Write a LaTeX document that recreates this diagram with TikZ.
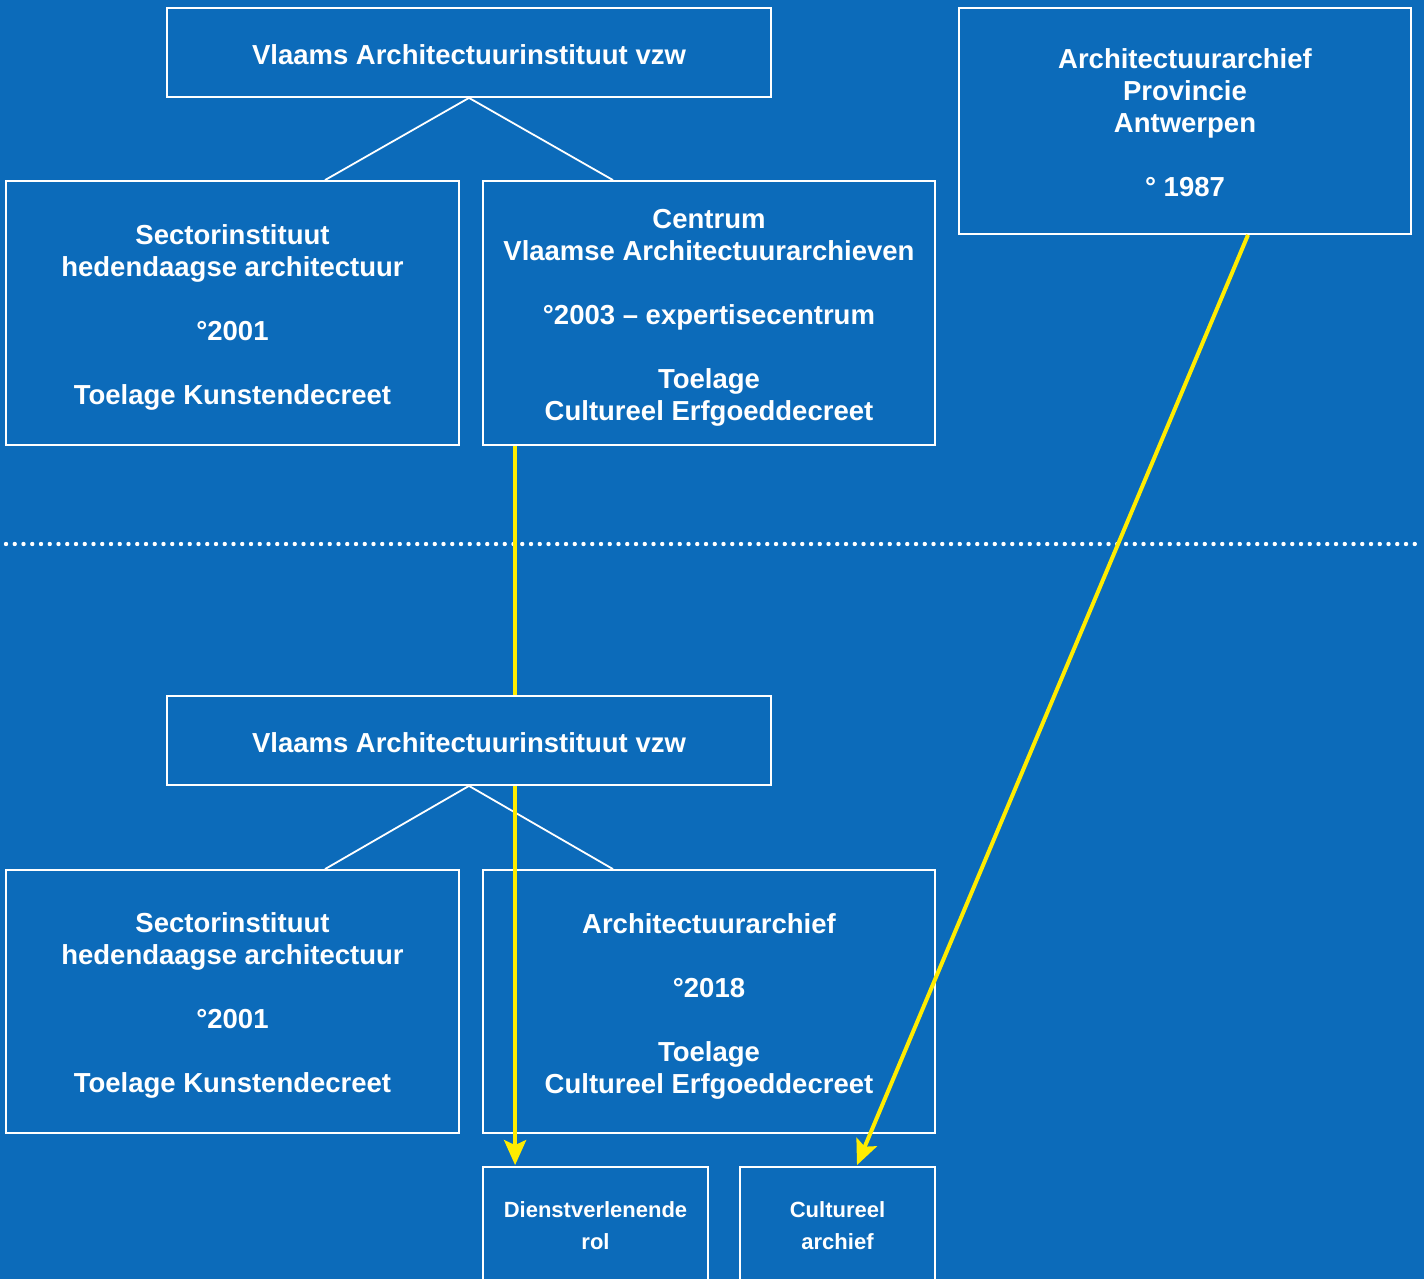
\documentclass[tikz,border=0pt]{standalone}
\usepackage{fontspec}
\setmainfont{Liberation Sans}
\usetikzlibrary{arrows.meta}
\definecolor{bgblue}{RGB}{12,107,186}
\definecolor{yel}{RGB}{255,236,0}
\pgfdeclarelayer{front}
\pgfsetlayers{main,front}
\tikzset{
  box/.style={draw=white, line width=1.8pt, fill=bgblue, inner sep=0pt},
  txt/.style={text=white, inner sep=0pt, align=center, font=\bfseries\fontsize{27.5}{32}\selectfont},
  smalltxt/.style={txt, font=\bfseries\fontsize{22}{32}\selectfont},
  wline/.style={draw=white, line width=1.8pt},
  yarrow/.style={draw=yel, line width=4pt, -{Stealth[length=25pt,width=22pt,inset=5pt]}}
}
\begin{document}
\begin{tikzpicture}[x=1pt,y=-1pt]
\fill[bgblue] (0,0) rectangle (1424,1279);
\useasboundingbox (0,0) rectangle (1424,1279);
\clip (0,0) rectangle (1424,1279);

% dotted separator
\draw[white, line width=4.4pt, line cap=round, dash pattern=on 0pt off 8.75pt] (6,544) -- (1420,544);

\node[box, minimum width=604pt, minimum height=89pt] (topvai) at (469,52.5) {};
\node[txt] (topvait) at ([yshift=-2pt]topvai.center) {Vlaams Architectuurinstituut vzw};

\node[box, minimum width=453pt, minimum height=264pt] (sectortop) at (232.5,313) {};
\node[txt] (sectortopt) at ([yshift=-4pt]sectortop.center) {Sectorinstituut\\hedendaagse architectuur\\[32pt]°2001\\[32pt]Toelage Kunstendecreet};

\node[box, minimum width=452pt, minimum height=264pt] (centrum) at (709,313) {};
\node[txt] (centrumt) at ([yshift=-5pt]centrum.center) {Centrum\\Vlaamse Architectuurarchieven\\[32pt]°2003 – expertisecentrum\\[32pt]Toelage\\Cultureel Erfgoeddecreet};

\node[box, minimum width=452pt, minimum height=226pt] (provincie) at (1185,121) {};
\node[txt] (provinciet) at ([yshift=-2pt]provincie.center) {Architectuurarchief\\Provincie\\Antwerpen\\[32pt]° 1987};

\begin{pgfonlayer}{front}
\node[box, minimum width=604pt, minimum height=89pt] (midvai) at (469,740.5) {};
\node[txt] (midvait) at ([yshift=-2pt]midvai.center) {Vlaams Architectuurinstituut vzw};
\end{pgfonlayer}

\node[box, minimum width=453pt, minimum height=263pt] (sectorbot) at (232.5,1001.5) {};
\node[txt] (sectorbott) at ([yshift=-4pt]sectorbot.center) {Sectorinstituut\\hedendaagse architectuur\\[32pt]°2001\\[32pt]Toelage Kunstendecreet};

\node[box, minimum width=452pt, minimum height=263pt] (archief) at (709,1001.5) {};
\node[txt] (archieft) at ([yshift=-5pt]archief.center) {Architectuurarchief\\[32pt]°2018\\[32pt]Toelage\\Cultureel Erfgoeddecreet};

\node[box, minimum width=225pt, minimum height=118pt] (dienst) at (595.5,1226) {};
\node[smalltxt] (dienstt) at (dienst.center) {Dienstverlenende\\rol};

\node[box, minimum width=195pt, minimum height=118pt] (cultarch) at (837.5,1226) {};
\node[smalltxt] (cultarcht) at (cultarch.center) {Cultureel\\archief};

\draw[wline] (topvai.south) -- ([xshift=92.5pt]sectortop.north);
\draw[wline] (topvai.south) -- ([xshift=-96pt]centrum.north);
\draw[wline] (midvai.south) -- ([xshift=92.5pt]sectorbot.north);
\draw[wline] (midvai.south) -- ([xshift=-96pt]archief.north);

\draw[yarrow] ([xshift=33pt]centrum.south west) -- ([xshift=33pt,yshift=1pt]dienst.north west);
\draw[yarrow] ([xshift=63pt]provincie.south) -- ([xshift=19.5pt,yshift=1pt]cultarch.north);
\end{tikzpicture}
\end{document}
